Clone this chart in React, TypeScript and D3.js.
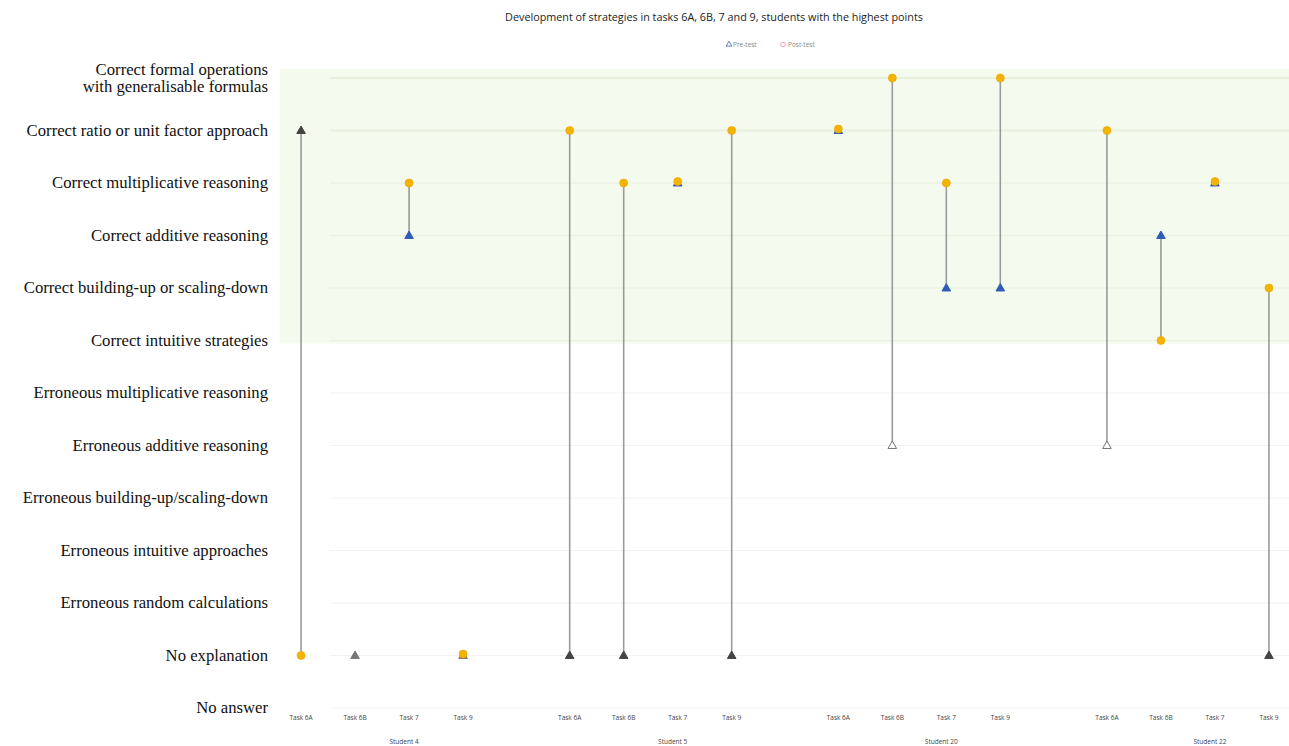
import React from 'react';
import * as d3 from 'd3';

const levels = [
  'Correct formal operations\nwith generalisable formulas',
  'Correct ratio or unit factor approach',
  'Correct multiplicative reasoning',
  'Correct additive reasoning',
  'Correct building-up or scaling-down',
  'Correct intuitive strategies',
  'Erroneous multiplicative reasoning',
  'Erroneous additive reasoning',
  'Erroneous building-up/scaling-down',
  'Erroneous intuitive approaches',
  'Erroneous random calculations',
  'No explanation',
  'No answer',
];
const students = ['Student 4', 'Student 5', 'Student 20', 'Student 22'];
const tasks = ['Task 6A', 'Task 6B', 'Task 7', 'Task 9'];
// level index per student (rows) and task (columns)
const preTest = [
  [1, 11, 3, 11],
  [11, 11, 2, 11],
  [1, 7, 4, 4],
  [7, 3, 2, 11],
];
const postTest = [
  [11, 11, 2, 11],
  [1, 2, 2, 1],
  [1, 0, 2, 0],
  [1, 5, 2, 4],
];

const W = 1289;
const H = 746;

export default function App() {
  const y = d3.scalePoint<number>().domain(levels.map((_, i) => i)).range([78, 708]);
  const xs = d3.scaleBand<string>().domain(students).range([247.75, 1322.25]).padding(0);
  const bw = xs.bandwidth();
  const step = 54;
  const pad = (bw / step - (tasks.length - 1)) / 2;
  const xt = d3.scalePoint<string>().domain(tasks).range([0, bw]).padding(pad);
  const tri = d3.symbol().type(d3.symbolTriangle).size(32)()!;
  const triLeg = d3.symbol().type(d3.symbolTriangle).size(14)()!;

  const points: any[] = [];
  students.forEach((s, si) => {
    tasks.forEach((t, ti) => {
      const pre = preTest[si][ti];
      const post = postTest[si][ti];
      points.push({ s, t, pre, post, x: (xs(s) as number) + (xt(t) as number) });
    });
  });

  const preStyle = (pre: number, post: number) => {
    if (pre >= 6 && pre <= 10) return { fill: '#fff', stroke: '#777' };
    if (pre <= 5 && post <= 5) return { fill: '#2f5cb8', stroke: '#2f5cb8' };
    if (pre === post) return { fill: '#777', stroke: '#777' };
    return { fill: '#444', stroke: '#444' };
  };

  return (
    <svg width={W} height={H} style={{ position: 'absolute', left: 0, top: 0, background: '#fff' }}>
      {/* green zone for correct strategies */}
      <rect x={280} y={y(0)! - 9} width={W - 280} height={y(5)! - y(0)! + 12} fill="#f5faee" />
      {/* grid lines */}
      {levels.map((_, i) => (
        <line key={i} x1={330} x2={W} y1={y(i)} y2={y(i)} stroke={i <= 5 ? '#e9f0de' : '#f2f2f2'} strokeWidth={i <= 1 ? 2 : 1} />
      ))}
      <text x={714} y={21} textAnchor="middle" fontFamily="'Open Sans', sans-serif" fontSize={10.8} fill="#222">
        Development of strategies in tasks 6A, 6B, 7 and 9, students with the highest points
      </text>
      {/* legend */}
      <g fontFamily="'Open Sans', sans-serif" fontSize={6.5} fill="#888">
        <path d={triLeg} transform="translate(729,44.5)" fill="none" stroke="#3a5fc0" strokeWidth={0.8} />
        <text x={733} y={47}>Pre-test</text>
        <circle cx={783} cy={44.5} r={2.3} fill="none" stroke="#f08aa0" strokeWidth={0.8} />
        <text x={788} y={47}>Post-test</text>
      </g>
      {/* y labels */}
      <g fontFamily="'Liberation Serif', 'Times New Roman', serif" fontSize={16.7} fill="#111" textAnchor="end">
        {levels.map((l, i) => {
          const lines = l.split('\n');
          return (
            <text key={i} x={268} y={y(i)! + 5 - (lines.length - 1) * 8.5}>
              {lines.map((ln, k) => (
                <tspan key={k} x={268} dy={k === 0 ? 0 : 17}>{ln}</tspan>
              ))}
            </text>
          );
        })}
      </g>
      {/* connectors */}
      {points.map((p, i) => (
        <line key={i} x1={p.x} x2={p.x} y1={y(p.pre)} y2={y(p.post)} stroke="#9a9a9a" strokeWidth={1.6} />
      ))}
      {/* pre-test markers */}
      {points.map((p, i) => {
        const st = preStyle(p.pre, p.post);
        return (
          <path key={i} d={tri} transform={`translate(${p.x},${y(p.pre)! + 0.5})`} fill={st.fill} stroke={st.stroke} strokeWidth={1} />
        );
      })}
      {/* post-test markers */}
      {points.map((p, i) =>
        p.post === 11 && p.pre === 11 && p.t === 'Task 6B' ? null : (
          <circle key={i} cx={p.x} cy={y(p.post)! - (p.post === p.pre ? 1.5 : 0)} r={4} fill="#f5b301" stroke="#e8a400" strokeWidth={0.6} />
        )
      )}
      {/* x axis labels */}
      <g fontFamily="'Open Sans', sans-serif" fontSize={6.5} fill="#444" textAnchor="middle">
        {points.map((p, i) => (
          <text key={i} x={p.x} y={720}>{p.t}</text>
        ))}
        {students.map((s) => (
          <text key={s} x={(xs(s) as number) + bw / 2 + 22} y={744}>{s}</text>
        ))}
      </g>
    </svg>
  );
}
